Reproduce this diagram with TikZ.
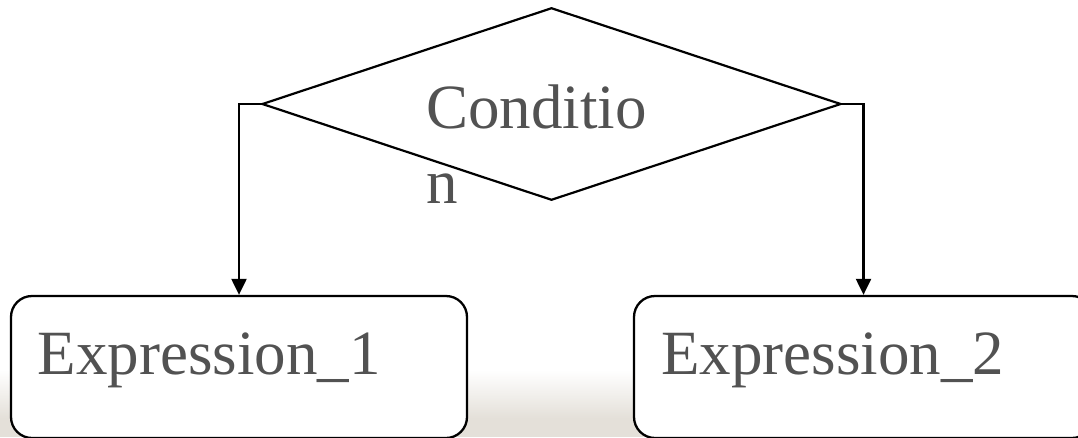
\documentclass[tikz,border=0pt]{standalone}
\usepackage{fontspec}
\setmainfont{Liberation Serif}
\usetikzlibrary{shapes.geometric,arrows.meta,calc}
\definecolor{txt}{HTML}{525252}
\definecolor{bgb}{HTML}{E4E0D9}
\begin{document}
\begin{tikzpicture}[x=1pt,y=-1pt,
  line/.style={line width=2.2pt,draw=black},
  arr/.style={line, -{Triangle[width=15pt,length=16pt]}},
  exprbox/.style={draw=black,line width=2.3pt,fill=white,rounded corners=21pt,
    minimum height=142pt,inner sep=0pt},
  lbl/.style={text=txt,inner sep=0pt,font=\fontsize{63}{72}\selectfont},
  condlbl/.style={text=txt,inner sep=0pt,align=left,font=\fontsize{63}{75}\selectfont}]
\useasboundingbox (0,0) rectangle (1078,437);
\clip (0,0) rectangle (1078,437);
% background band
\shade[top color=white,bottom color=bgb] (0,370) rectangle (1078,418);
\fill[bgb] (0,417.5) rectangle (1078,437);
% diamond
\node[diamond,line,minimum width=579pt,minimum height=192.5pt,inner sep=0pt] (cond) at (551.5,104) {};
\node[condlbl,anchor=base west] (condtext) at (426,203) {Conditio\\n};
% boxes
\node[exprbox,minimum width=456pt] (e1) at (239,367) {};
\node[exprbox,minimum width=459pt] (e2) at (863.5,367) {};
\node[lbl,anchor=base west] (e1t) at (37.5,374) {Expression\_1};
\node[lbl,anchor=base west] (e2t) at (661,374) {Expression\_2};
% connectors
\draw[arr] (cond.west) -| (e1.north);
\draw[arr] (cond.east) -| (e2.north);
\end{tikzpicture}
\end{document}
